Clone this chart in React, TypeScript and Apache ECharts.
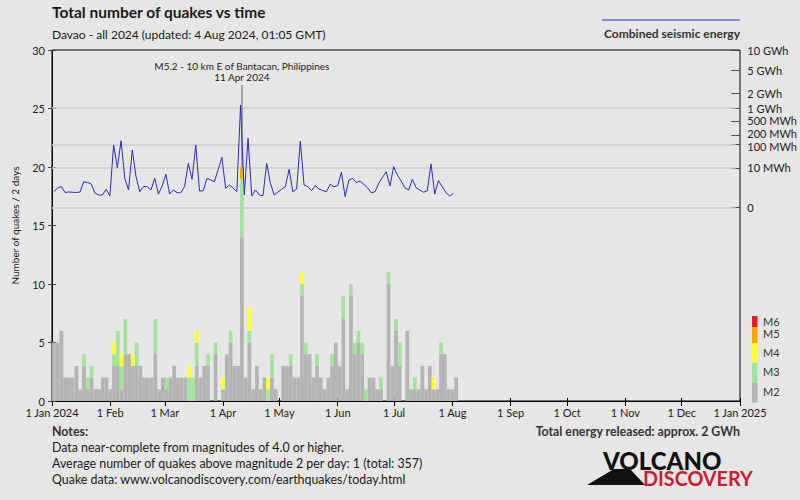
import React, { useEffect, useRef } from "react";
import * as echarts from "echarts";

// ---- data (2-day bins starting 1 Jan 2024; bin i covers days 2i..2i+1) ----
const m2Counts = [
  5, 5, 6, 2, 2, 2, 3, 1, 3, 1,
  2, 1, 1, 2, 2, 1, 3, 3, 1, 4,
  4, 3, 3, 3, 2, 2, 2, 4, 1, 2,
  1, 2, 3, 2, 2, 2, 0, 0, 3, 2,
  3, 3, 0, 4, 0, 1, 4, 5, 3, 3,
  14, 2, 5, 1, 3, 1, 2, 0, 2, 1,
  0, 3, 3, 3, 2, 2, 9, 4, 4, 2,
  3, 2, 1, 2, 3, 5, 3, 7, 1, 9,
  4, 5, 4, 0, 2, 2, 1, 1, 0, 10,
  3, 6, 3, 0, 6, 1, 1, 1, 3, 1,
  3, 1, 1, 4, 4, 1, 1, 2,
];
const m3Counts = [
  0, 0, 0, 0, 0, 0, 0, 0, 1, 1,
  1, 0, 0, 0, 0, 0, 1, 3, 2, 3,
  0, 0, 2, 0, 0, 0, 0, 3, 0, 0,
  1, 0, 0, 0, 0, 0, 2, 2, 2, 0,
  0, 1, 0, 1, 0, 0, 0, 1, 0, 0,
  5, 0, 1, 0, 0, 0, 0, 1, 2, 0,
  0, 0, 0, 1, 0, 0, 1, 1, 0, 0,
  1, 0, 0, 0, 1, 0, 0, 2, 0, 1,
  1, 1, 1, 1, 0, 0, 0, 1, 0, 1,
  0, 1, 2, 0, 0, 0, 1, 0, 0, 0,
  0, 0, 0, 1, 0, 0, 0, 0,
];
const m4Counts = [
  0, 0, 0, 0, 0, 0, 0, 0, 0, 0,
  0, 0, 0, 0, 0, 0, 1, 0, 1, 0,
  0, 1, 0, 0, 0, 0, 0, 0, 0, 0,
  0, 0, 0, 0, 0, 0, 1, 0, 1, 0,
  0, 0, 0, 0, 0, 1, 0, 0, 0, 0,
  0, 0, 2, 0, 0, 0, 0, 1, 0, 0,
  0, 0, 0, 0, 0, 0, 1, 0, 0, 0,
  0, 0, 0, 0, 0, 0, 0, 0, 0, 0,
  0, 0, 0, 0, 0, 0, 0, 0, 0, 0,
  0, 0, 0, 0, 0, 0, 0, 0, 0, 0,
  0, 1, 0, 0, 0, 0, 0, 0,
];
const m5Counts = [
  0, 0, 0, 0, 0, 0, 0, 0, 0, 0,
  0, 0, 0, 0, 0, 0, 0, 0, 0, 0,
  0, 0, 0, 0, 0, 0, 0, 0, 0, 0,
  0, 0, 0, 0, 0, 0, 0, 0, 0, 0,
  0, 0, 0, 0, 0, 0, 0, 0, 0, 0,
  1, 0, 0, 0, 0, 0, 0, 0, 0, 0,
  0, 0, 0, 0, 0, 0, 0, 0, 0, 0,
  0, 0, 0, 0, 0, 0, 0, 0, 0, 0,
  0, 0, 0, 0, 0, 0, 0, 0, 0, 0,
  0, 0, 0, 0, 0, 0, 0, 0, 0, 0,
  0, 0, 0, 0, 0, 0, 0, 0,
];
// combined seismic energy per bin, MWh
const energyMWh = [
  0.096, 0.28, 0.4, 0.074, 0.087, 0.079, 0.074, 0.087, 1.14, 0.98,
  0.71, 0.062, 0.029, 0.029, 0.2, 0.019, 97.5, 10.1, 136, 2.1,
  0.16, 64, 2.8, 0.096, 0.39, 0.39, 0.16, 2.1, 0.043, 0.46,
  4.1, 0.043, 0.16, 0.069, 0.069, 0.39, 17, 1.8, 97.5, 0.12,
  0.13, 2.1, 1.6, 1.14, 8.0, 32, 0.26, 0.57, 0.28, 0.096,
  1164, 0.029, 162, 0.019, 0.16, 0.029, 0.022, 17, 0.83, 0.029,
  0.087, 0.2, 0.39, 8.2, 0.096, 0.21, 133, 0.57, 0.39, 0.13,
  0.49, 0.21, 0.14, 0.096, 0.67, 0.39, 0.49, 5.5, 0.014, 1.6,
  2.1, 0.94, 1.3, 0.67, 0.3, 0.069, 0.096, 0.83, 2.5, 5.9,
  0.46, 11.5, 3.6, 1.3, 0.3, 0.16, 1.8, 0.3, 0.16, 0.079,
  0.13, 16, 0.043, 1.4, 0.39, 0.069, 0.019, 0.056,
];

const monthDays = [0, 31, 60, 91, 121, 152, 182, 213, 244, 274, 305, 335, 366];
const monthLabels = [
  "1 Jan 2024", "1 Feb", "1 Mar", "1 Apr", "1 May", "1 Jun", "1 Jul",
  "1 Aug", "1 Sep", "1 Oct", "1 Nov", "1 Dec", "1 Jan 2025",
];
const energyTicksMWh = [0, 10, 100, 200, 500, 1000, 2000, 5000, 10000];
const energyTickLabels = [
  "0", "10 MWh", "100 MWh", "200 MWh", "500 MWh", "1 GWh", "2 GWh", "5 GWh", "10 GWh",
];
const energyGridMWh = [0, 10, 100, 1000];

const annotationBin = 50;
const annotationTop = 27;
const annotationBase = 20;
const annotationText = "M5.2 - 10 km E of Bantacan, Philippines\n11 Apr 2024";

const magLegend = [
  { name: "M6", color: "#ec1c1c" },
  { name: "M5", color: "#ffa500" },
  { name: "M4", color: "#ffff33" },
  { name: "M3", color: "#a2e49c" },
  { name: "M2", color: "#b4b4b4" },
];

const notes = [
  "Data near-complete from magnitudes of 4.0 or higher.",
  "Average number of quakes above magnitude 2 per day: 1 (total: 357)",
  "Quake data: www.volcanodiscovery.com/earthquakes/today.html",
];

// 2-day bin categories covering all of 2024 (366 days -> 183 bins)
const binCategories: string[] = [];
for (let i = 0; i < 183; i++) {
  const d = new Date(Date.UTC(2024, 0, 1 + 2 * i));
  binCategories.push(d.toISOString().slice(0, 10));
}

const FONT = "Lato";
const eT = (mwh: number) => Math.pow(mwh, 0.2);

export default function App() {
  const ref = useRef<HTMLDivElement>(null);
  useEffect(() => {
    if (!ref.current) return;
    document.body.style.margin = "0";
    const chart = echarts.init(ref.current, undefined, { renderer: "svg" });
    const barSeries = [
      { name: "M2", data: m2Counts, color: magLegend[4].color },
      { name: "M3", data: m3Counts, color: magLegend[3].color },
      { name: "M4", data: m4Counts, color: magLegend[2].color },
      { name: "M5", data: m5Counts, color: magLegend[1].color },
    ].map((s) => ({
      type: "bar",
      name: s.name,
      xAxisIndex: 2,
      yAxisIndex: 0,
      stack: "q",
      barCategoryGap: "0%",
      z: 3,
      itemStyle: { color: s.color },
      data: s.data,
      ...(s.name === "M5"
        ? {
            markLine: {
              silent: true,
              symbol: ["none", "none"],
              z: 4,
              lineStyle: { color: "#8a8a8a", type: "solid", width: 1.5 },
              label: {
                show: true,
                position: "end",
                distance: 3,
                formatter: annotationText,
                color: "#222",
                fontSize: 10,
                lineHeight: 11,
                fontFamily: FONT,
                align: "center",
              },
              data: [
                [
                  { coord: [annotationBin, annotationBase] },
                  { coord: [annotationBin, annotationTop] },
                ],
              ],
            },
          }
        : {}),
    }));

    const eMax = eT(10000);
    const axisText = { color: "#222", fontSize: 11, fontFamily: FONT };

    const graphics: any[] = [
      {
        type: "text",
        x: 52,
        y: 12,
        style: {
          text: "Total number of quakes vs time",
          font: `bold 15.5px ${FONT}`,
          fill: "#1a1a1a",
          align: "left",
          verticalAlign: "middle",
        },
      },
      {
        type: "text",
        x: 52,
        y: 34,
        style: {
          text: "Davao - all 2024 (updated: 4 Aug 2024, 01:05 GMT)",
          font: `12px ${FONT}`,
          fill: "#1a1a1a",
          align: "left",
          verticalAlign: "middle",
        },
      },
      {
        type: "line",
        shape: { x1: 602, y1: 20, x2: 740, y2: 20 },
        style: { stroke: "#2b2bc4", lineWidth: 1 },
      },
      {
        type: "text",
        x: 740,
        y: 33,
        style: {
          text: "Combined seismic energy",
          font: `bold 12px ${FONT}`,
          fill: "#333",
          align: "right",
          verticalAlign: "middle",
        },
      },
      {
        type: "text",
        x: 52,
        y: 431,
        style: {
          text: "Notes:",
          font: `bold 12.4px ${FONT}`,
          fill: "#333",
          align: "left",
          verticalAlign: "middle",
        },
      },
      ...notes.map((t, k) => ({
        type: "text",
        x: 52,
        y: 447 + 16 * k,
        style: {
          text: t,
          font: `12.4px ${FONT}`,
          fill: "#1a1a1a",
          align: "left",
          verticalAlign: "middle",
        },
      })),
      {
        type: "text",
        x: 740,
        y: 431,
        style: {
          text: "Total energy released: approx. 2 GWh",
          font: `bold 12.3px ${FONT}`,
          fill: "#333",
          align: "right",
          verticalAlign: "middle",
        },
      },
      // logo
      {
        type: "polygon",
        shape: {
          points: [
            [587, 485],
            [614, 469],
            [630, 469],
            [645, 485],
          ],
        },
        style: { fill: "#111" },
      },
      {
        type: "text",
        x: 603,
        y: 460,
        scaleX: 1.0,
        style: {
          text: "VOLCANO",
          font: `900 24px ${FONT}`,
          fill: "#111",
          align: "left",
          verticalAlign: "middle",
        },
      },
      {
        type: "text",
        x: 643,
        y: 477.5,
        scaleX: 0.94,
        style: {
          text: "DISCOVERY",
          font: `bold 21px ${FONT}`,
          fill: "#c8202e",
          align: "left",
          verticalAlign: "middle",
        },
      },
    ];
    // magnitude legend
    const legBounds = [316, 327, 343, 362.5, 383, 402.5];
    const legLabelY = [321, 333, 352, 371.5, 391.5];
    magLegend.forEach((m, k) => {
      graphics.push({
        type: "rect",
        shape: { x: 752, y: legBounds[k], width: 5.5, height: legBounds[k + 1] - legBounds[k] },
        style: { fill: m.color },
      });
      graphics.push({
        type: "text",
        x: 763,
        y: legLabelY[k],
        style: {
          text: m.name,
          font: `11px ${FONT}`,
          fill: "#333",
          align: "left",
          verticalAlign: "middle",
        },
      });
    });

    const richBase = { color: "#222", fontSize: 11, fontFamily: FONT, lineHeight: 11 };

    chart.setOption({
      animation: false,
      backgroundColor: "#e6e6e6",
      textStyle: { fontFamily: FONT },
      grid: [
        {
          left: 52,
          right: 60,
          top: 50,
          bottom: 99,
          show: true,
          borderColor: "#000",
          borderWidth: 1,
          backgroundColor: "transparent",
        },
        { left: 52, right: 60, top: 50, height: 157.3 },
      ],
      xAxis: [
        {
          type: "value",
          gridIndex: 0,
          min: 0,
          max: 366,
          axisLine: { show: true, lineStyle: { color: "#000", width: 1 } },
          axisTick: {
            show: true,
            length: 5,
            customValues: monthDays,
            lineStyle: { color: "#000" },
          },
          axisLabel: {
            show: true,
            customValues: monthDays,
            margin: 6,
            ...axisText,
            formatter: (v: number) => {
              const k = monthDays.indexOf(Math.round(v));
              return k >= 0 ? monthLabels[k] : "";
            },
          },
          splitLine: { show: false },
        },
        {
          type: "value",
          gridIndex: 0,
          min: 0,
          max: 366,
          position: "bottom",
          axisLine: { show: false },
          axisTick: {
            show: true,
            inside: true,
            length: 3,
            customValues: monthDays,
            lineStyle: { color: "#000" },
          },
          axisLabel: { show: false },
          splitLine: { show: false },
        },
        {
          type: "category",
          gridIndex: 0,
          data: binCategories,
          boundaryGap: true,
          show: false,
        },
        {
          type: "category",
          gridIndex: 1,
          data: binCategories,
          boundaryGap: true,
          show: false,
        },
      ],
      yAxis: [
        {
          type: "value",
          gridIndex: 0,
          min: 0,
          max: 30,
          interval: 5,
          name: "Number of quakes / 2 days",
          nameLocation: "middle",
          nameGap: 32,
          nameTextStyle: { color: "#222", fontSize: 10, fontFamily: FONT },
          axisLine: { show: true, lineStyle: { color: "#000" } },
          axisTick: { show: true, length: 4, lineStyle: { color: "#444" } },
          axisLabel: { ...axisText, margin: 7 },
          splitLine: { show: false },
        },
        {
          type: "value",
          gridIndex: 0,
          min: 0,
          max: 30,
          interval: 5,
          position: "left",
          axisLine: { show: false },
          axisTick: { show: true, inside: true, length: 4, lineStyle: { color: "#444" } },
          axisLabel: { show: false },
          splitLine: { show: false },
        },
        {
          type: "value",
          gridIndex: 1,
          min: 0,
          max: eMax,
          position: "right",
          axisLine: { show: false },
          axisTick: {
            show: true,
            length: 4,
            customValues: energyTicksMWh.map(eT),
            lineStyle: { color: "#444" },
          },
          axisLabel: {
            show: true,
            customValues: energyTicksMWh.map(eT),
            margin: 12,
            ...axisText,
            formatter: (v: number) => {
              let best = 0;
              energyTicksMWh.forEach((e, k) => {
                if (Math.abs(eT(e) - v) < Math.abs(eT(energyTicksMWh[best]) - v)) best = k;
              });
              const lbl = energyTickLabels[best];
              if (energyTicksMWh[best] === 200) return `{u|${lbl}}`;
              if (energyTicksMWh[best] === 100) return `{d|${lbl}}`;
              return `{n|${lbl}}`;
            },
            rich: {
              n: { ...richBase },
              u: { ...richBase, padding: [0, 0, 4, 0] },
              d: { ...richBase, padding: [4, 0, 0, 0] },
            },
          },
          splitLine: { show: false },
        },
        {
          type: "value",
          gridIndex: 1,
          min: 0,
          max: eMax,
          position: "right",
          axisLine: { show: false },
          axisTick: {
            show: true,
            inside: true,
            length: 4,
            customValues: energyTicksMWh.map(eT),
            lineStyle: { color: "#444" },
          },
          axisLabel: { show: false },
          splitLine: { show: false },
        },
      ],
      series: [
        {
          type: "line",
          name: "grid",
          xAxisIndex: 3,
          yAxisIndex: 2,
          data: [0],
          showSymbol: false,
          lineStyle: { opacity: 0 },
          z: 1,
          silent: true,
          markLine: {
            silent: true,
            z: 1,
            symbol: ["none", "none"],
            label: { show: false },
            lineStyle: { color: "#cdcdcd", type: "solid", width: 1.5 },
            data: energyGridMWh.map((e) => ({ yAxis: eT(e) })),
          },
        },
        ...barSeries,
        {
          type: "line",
          name: "Combined seismic energy",
          xAxisIndex: 3,
          yAxisIndex: 2,
          z: 5,
          showSymbol: false,
          lineStyle: { color: "#2b2bc4", width: 1 },
          data: energyMWh.map((e) => eT(e)),
        },
      ],
      graphic: graphics,
    });
    return () => chart.dispose();
  }, []);
  return (
    <div
      ref={ref}
      style={{ position: "absolute", left: 0, top: 0, width: 800, height: 500 }}
    />
  );
}
